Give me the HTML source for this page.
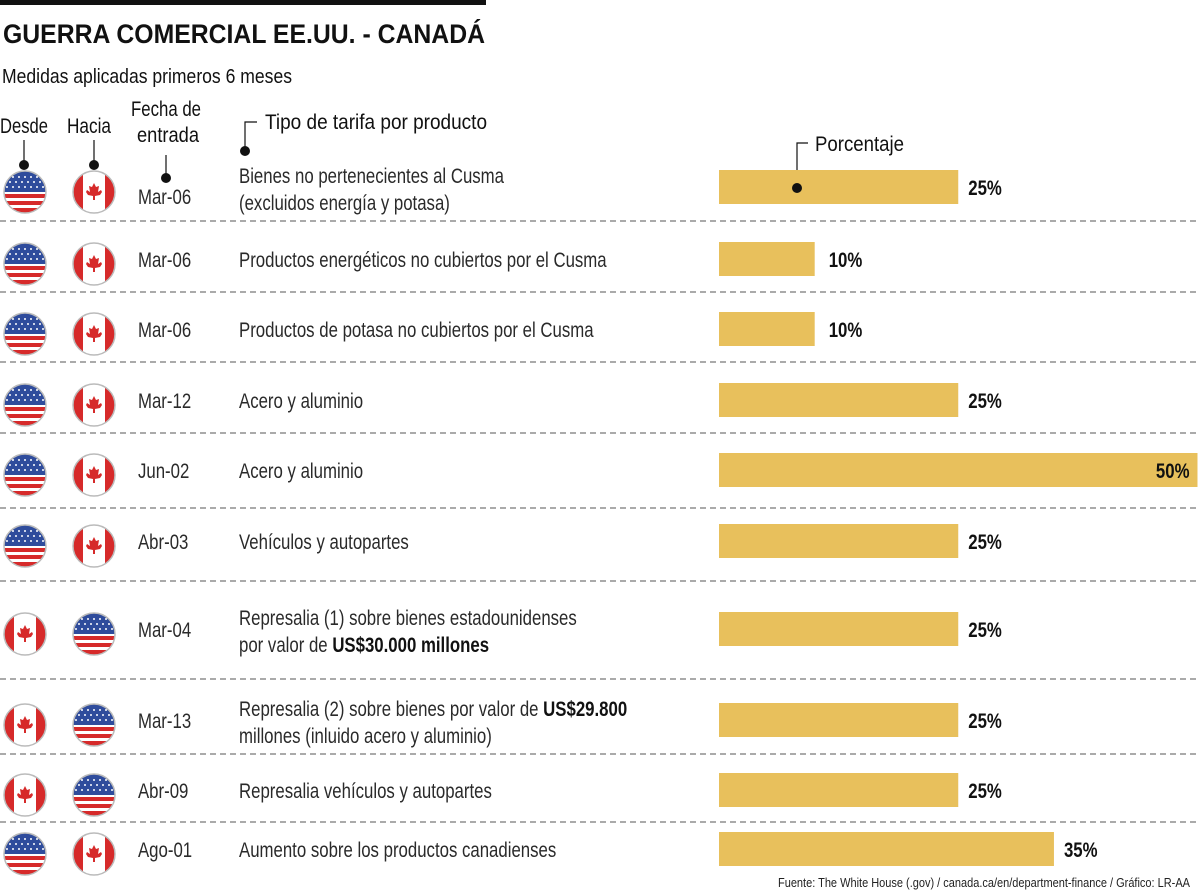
<!DOCTYPE html>
<html><head><meta charset="utf-8"><style>
html,body{margin:0;padding:0;background:#fff;}
svg{display:block;font-family:"Liberation Sans",sans-serif;}
</style></head><body>
<svg id="chart" width="1200" height="893" viewBox="0 0 1200 893" xmlns="http://www.w3.org/2000/svg">
<defs>
<clipPath id="cc"><circle cx="0" cy="0" r="21"/></clipPath>
<g id="us">
  <g clip-path="url(#cc)">
    <rect x="-22" y="-22" width="44" height="44" fill="#fff"/>
    <rect x="-22" y="-22" width="44" height="22" fill="#2f4c9c"/>
    <rect x="-22" y="2" width="44" height="4" fill="#d62a2a"/>
    <rect x="-22" y="9" width="44" height="4" fill="#d62a2a"/>
    <rect x="-22" y="16" width="44" height="6" fill="#d62a2a"/>
    <g fill="#fff">
      <circle cx="-12" cy="-15" r="1"/><circle cx="-6" cy="-15" r="1"/><circle cx="0" cy="-15" r="1"/><circle cx="6" cy="-15" r="1"/><circle cx="12" cy="-15" r="1"/>
      <circle cx="-15" cy="-10" r="1"/><circle cx="-9" cy="-10" r="1"/><circle cx="-3" cy="-10" r="1"/><circle cx="3" cy="-10" r="1"/><circle cx="9" cy="-10" r="1"/><circle cx="15" cy="-10" r="1"/>
      <circle cx="-18" cy="-5" r="1"/><circle cx="-12" cy="-5" r="1"/><circle cx="-6" cy="-5" r="1"/><circle cx="0" cy="-5" r="1"/><circle cx="6" cy="-5" r="1"/><circle cx="12" cy="-5" r="1"/><circle cx="18" cy="-5" r="1"/>
    </g>
  </g>
  <circle r="21" fill="none" stroke="#bbb" stroke-width="1.5"/>
</g>
<g id="ca">
  <g clip-path="url(#cc)">
    <rect x="-22" y="-22" width="44" height="44" fill="#fff"/>
    <rect x="-22" y="-22" width="11" height="44" fill="#d62a2a"/>
    <rect x="11" y="-22" width="11" height="44" fill="#d62a2a"/>
    <path d="M0,-9 L2,-5 L5,-6 L4,0 L7,-2 L8,0 L6,3 L1,4 L1,8 L-1,8 L-1,4 L-6,3 L-8,0 L-7,-2 L-4,0 L-5,-6 L-2,-5 Z" fill="#d62a2a"/>
  </g>
  <circle r="21" fill="none" stroke="#bbb" stroke-width="1.5"/>
</g>
</defs>
<rect x="0" y="0" width="486" height="5" fill="#111"/>
<text x="3" y="43" font-size="27" font-weight="bold" fill="#111" textLength="482" lengthAdjust="spacingAndGlyphs">GUERRA COMERCIAL EE.UU. - CANADÁ</text>
<text x="2" y="83" font-size="20" fill="#111" textLength="290" lengthAdjust="spacingAndGlyphs">Medidas aplicadas primeros 6 meses</text>
<g fill="#111" font-size="21">
  <text x="0" y="133" textLength="48" lengthAdjust="spacingAndGlyphs">Desde</text>
  <text x="67" y="133" textLength="44" lengthAdjust="spacingAndGlyphs">Hacia</text>
  <text x="131" y="116" textLength="70" lengthAdjust="spacingAndGlyphs">Fecha de</text>
  <text x="137" y="142" textLength="62" lengthAdjust="spacingAndGlyphs">entrada</text>
  <text x="265" y="129" textLength="222" lengthAdjust="spacingAndGlyphs">Tipo de tarifa por producto</text>
  <text x="815" y="151" textLength="89" lengthAdjust="spacingAndGlyphs">Porcentaje</text>
</g>
<g stroke="#111" stroke-width="1.2" fill="none">
  <path d="M24,140 V163"/><path d="M94,140 V163"/><path d="M166,155 V176"/>
  <path d="M257,122 H245 V150"/><path d="M808,143 H797 V185"/>
</g>
<g fill="#111">
  <circle cx="24" cy="165" r="5"/><circle cx="94" cy="165" r="5"/><circle cx="166" cy="178" r="5"/><circle cx="245" cy="151" r="5"/>
</g>
<g id="rows"></g>
<circle cx="797" cy="188" r="5" fill="#111"/>
<text x="1190" y="887" font-size="13" text-anchor="end" fill="#222" textLength="412" lengthAdjust="spacingAndGlyphs">Fuente: The White House (.gov) / canada.ca/en/department-finance / Gráfico: LR-AA</text>
</svg>
<script>
const fromCountry = ["us","us","us","us","us","us","ca","ca","ca","us"];
const toCountry   = ["ca","ca","ca","ca","ca","ca","us","us","us","ca"];
const dates = ["Mar-06","Mar-06","Mar-06","Mar-12","Jun-02","Abr-03","Mar-04","Mar-13","Abr-09","Ago-01"];
const labelLine1 = ["Bienes no pertenecientes al Cusma","Productos energéticos no cubiertos por el Cusma","Productos de potasa no cubiertos por el Cusma","Acero y aluminio","Acero y aluminio","Vehículos y autopartes","Represalia (1) sobre bienes estadounidenses","Represalia (2) sobre bienes por valor de |US$29.800","Represalia vehículos y autopartes","Aumento sobre los productos canadienses"];
const labelLine2 = ["(excluidos energía y potasa)","","","","","","por valor de |US$30.000 millones","millones (inluido acero y aluminio)","",""];
const percentages = [25,10,10,25,50,25,25,25,25,35];

const NS="http://www.w3.org/2000/svg";
const rowsG=document.getElementById('rows');
const centers=[187,259,329,400,470,541,629,720,790,849];
const dividers=[221,292,362,433,508,581,679,754,822];
const x0=719, pxPer=9.57, barH=34;
function xScale(v){return x0+v*pxPer;}
function mk(tag,attrs){const e=document.createElementNS(NS,tag);for(const k in attrs)e.setAttribute(k,attrs[k]);return e;}
function richText(x,y,str,size){
  const t=mk('text',{x:x,y:y,'font-size':size,fill:'#2a2a2a',transform:`translate(${x*0.2} 0) scale(0.8 1)`});
  const parts=str.split('|');
  parts.forEach((p,i)=>{const s=mk('tspan',{});if(i>0){s.setAttribute('font-weight','bold');s.setAttribute('fill','#111');}s.textContent=p;t.appendChild(s);});
  return t;
}
dividers.forEach((y,i)=>{
  const l=mk('line',{x1:0,x2:1200,y1:y,y2:y,stroke:'#777','stroke-width':1.2,'stroke-dasharray':'6 4'});
  
  
  rowsG.appendChild(l);
});
percentages.forEach((v,i)=>{
  const c=centers[i];
  const g=mk('g',{});
  
  
  const f1=mk('use',{href:'#'+fromCountry[i],x:25,y:c+5});
  
  
  const f2=mk('use',{href:'#'+toCountry[i],x:94,y:c+5});
  
  
  g.appendChild(f1);g.appendChild(f2);
  const two=labelLine2[i]!=="";
  const d=richText(138,c+(i===0?17:8),dates[i],21);
  
  
  g.appendChild(d);
  if(two){
    const a=richText(239,c-4,labelLine1[i],21);
    
    
    const b=richText(239,c+23,labelLine2[i],21);
    
    
    g.appendChild(a);g.appendChild(b);
  } else {
    const a=richText(239,c+8,labelLine1[i],21);
    
    
    g.appendChild(a);
  }
  const w=xScale(v)-x0;
  const bar=mk('rect',{x:x0,y:c-barH/2,width:w,height:barH,fill:'#e8c05c'});
  
  
  g.appendChild(bar);
  const end=xScale(v);
  const inside=end+60>1200;
  const lx=inside?end-8:end+(v<15?14:10);
  const lab=mk('text',{x:0,y:0,'font-size':21,'font-weight':'bold',fill:'#111','text-anchor':inside?'end':'start',transform:`translate(${lx} ${c+8}) scale(0.8 1)`});
  lab.textContent=v+'%';
  
  
  g.appendChild(lab);
  rowsG.appendChild(g);
});
</script>
</body></html>
